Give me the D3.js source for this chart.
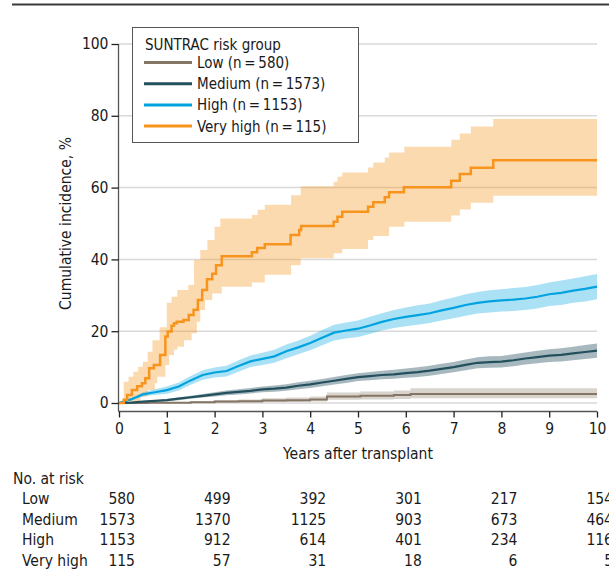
<!DOCTYPE html>
<html>
<head>
<meta charset="utf-8">
<script src="https://cdn.jsdelivr.net/npm/d3@7"></script>
<style>
  body { margin: 0; background: #fff; }
  svg text { font-family: "Liberation Sans Narrow", "DejaVu Sans Condensed", sans-serif; fill: #1a1a1a; }
</style>
</head>
<body>
<svg id="chart" width="609" height="584"></svg>
<script>
// ---------- data ----------
const groupNames = ["Low", "Medium", "High", "Very high"];
const groupLegend = ["Low (n\u2009=\u2009580)", "Medium (n\u2009=\u20091573)", "High (n\u2009=\u20091153)", "Very high (n\u2009=\u2009115)"];
const xTicks = [0,1,2,3,4,5,6,7,8,9,10];
const yTicks = [0,20,40,60,80,100];

// Very high (step curve + CI)
const veryHighT = [0,0.1,0.17,0.27,0.38,0.48,0.55,0.63,0.73,0.86,0.97,1.02,1.1,1.15,1.21,1.35,1.46,1.56,1.65,1.74,1.84,1.95,2.03,2.15,2.78,2.89,3.05,3.59,3.77,3.81,4.49,4.57,4.67,5.21,5.32,5.56,5.65,5.96,6.95,7.13,7.36,7.83,10];
const veryHighV = [0,0.9,2.2,3.6,4.7,5.5,6.9,9.7,10.6,13.4,18.5,19.9,21.5,22.2,22.6,23.1,24.5,26.0,28.7,31.5,34.5,36.0,38.4,40.9,42.0,43.2,44.2,46.8,48.2,49.3,50.5,51.9,53.3,54.7,55.9,57.3,58.7,60.1,61.9,63.8,65.5,67.6,67.6];
const veryHighUpperT = [0,0.1,0.2,0.3,0.4,0.5,0.6,0.7,0.85,1.0,1.1,1.22,1.45,1.57,1.7,1.85,2.0,2.12,2.78,2.9,3.05,3.6,3.8,4.49,4.57,4.67,5.21,5.32,5.56,5.65,5.97,6.95,7.13,7.36,7.83,10];
const veryHighUpper = [0,5.9,7.3,8.7,10.1,11.5,14.3,17.5,21.1,27.9,29.6,31.5,32.9,39.8,42.6,45.4,49.1,51.4,52.4,53.8,55.2,57.9,60.4,61.6,63.0,64.2,65.6,67.0,68.4,69.8,71.4,73.3,75.1,77.0,79.1,79.1];
const veryHighLowerT = [0,0.45,0.6,0.75,0.8,0.97,1.05,1.15,1.22,1.36,1.52,1.63,1.7,1.8,1.95,2.15,2.78,3.05,3.6,3.8,4.49,4.67,5.21,5.32,5.65,5.97,6.95,7.13,7.36,7.83,10];
const veryHighLower = [0,1.8,3.6,5.5,7.3,10.6,13.4,14.8,15.7,17.5,19.4,22.6,25.9,28.7,30.5,32.4,33.6,35.7,38.4,40.3,41.7,42.9,45.4,46.5,49.1,50.5,52.2,53.9,55.8,57.7,57.7];

// High
const highT = [0,0.25,0.5,0.75,1,1.25,1.5,1.75,2,2.25,2.5,2.75,3,3.25,3.5,3.75,4,4.25,4.5,4.75,5,5.25,5.5,5.75,6,6.25,6.5,6.75,7,7.25,7.5,7.75,8,8.25,8.5,8.75,9,9.25,9.5,9.75,10];
const highV = [0,1.0,2.4,3.0,3.6,4.6,6.3,7.8,8.5,8.9,10.3,11.6,12.3,13.0,14.4,15.5,16.7,18.2,19.6,20.2,20.7,21.6,22.6,23.4,24.0,24.5,25.0,25.8,26.5,27.3,27.9,28.3,28.6,28.8,29.1,29.6,30.3,30.7,31.3,31.8,32.4];
const highLower = [0,0.6,1.8,2.2,2.6,3.5,5.1,6.5,7.1,7.4,8.7,10.0,10.6,11.2,12.5,13.6,14.7,16.1,17.4,18.0,18.4,19.2,20.2,20.9,21.4,21.8,22.3,23.0,23.6,24.3,24.9,25.2,25.5,25.6,25.9,26.3,27.0,27.3,27.9,28.3,28.9];
const highUpper = [0,1.4,3.0,3.8,4.6,5.7,7.5,9.1,9.9,10.4,11.9,13.2,14.0,14.8,16.3,17.4,18.7,20.3,21.8,22.4,23.0,24.0,25.0,25.9,26.6,27.2,27.7,28.6,29.4,30.3,30.9,31.4,31.7,32.0,32.3,32.9,33.6,34.1,34.7,35.3,35.9];

// Medium
const mediumT = [0,0.25,0.5,0.75,1,1.25,1.5,1.75,2,2.25,2.5,2.75,3,3.25,3.5,3.75,4,4.25,4.5,4.75,5,5.25,5.5,5.75,6,6.25,6.5,6.75,7,7.25,7.5,7.75,8,8.25,8.5,8.75,9,9.25,9.5,9.75,10];
const mediumV = [0,0.1,0.4,0.6,0.8,1.2,1.6,2.0,2.4,2.8,3.1,3.4,3.8,4.0,4.3,4.8,5.2,5.7,6.2,6.7,7.2,7.5,7.8,8.0,8.3,8.6,9.0,9.5,10.0,10.6,11.2,11.4,11.5,11.9,12.4,12.8,13.2,13.4,13.8,14.2,14.6];
const mediumLower = [0,0,0.25,0.4,0.5,0.8,1.15,1.5,1.8,2.15,2.4,2.65,3.0,3.15,3.4,3.85,4.2,4.7,5.15,5.6,6.1,6.35,6.6,6.75,7.0,7.25,7.6,8.1,8.55,9.1,9.65,9.8,9.9,10.25,10.7,11.05,11.4,11.55,11.9,12.25,12.6];
const mediumUpper = [0,0.2,0.55,0.8,1.1,1.6,2.05,2.5,3.0,3.45,3.8,4.15,4.6,4.85,5.2,5.75,6.2,6.7,7.25,7.8,8.3,8.65,9.0,9.25,9.6,9.95,10.4,10.9,11.45,12.1,12.75,13.0,13.1,13.55,14.1,14.55,15.0,15.25,15.7,16.15,16.6];

// Low (step curve)
const lowT = [0,0.6,1.0,1.5,2.0,2.5,3.0,3.5,4.0,4.35,5.05,5.75,6.1,10];
const lowV = [0,0.05,0.1,0.2,0.4,0.5,0.7,0.8,1.0,1.8,2.0,2.2,2.5,2.5];
const lowLower = [0,0,0,0,0.1,0.15,0.25,0.3,0.4,0.9,1.0,1.1,1.35,1.35];
const lowUpper = [0,0.15,0.3,0.5,0.8,1.0,1.3,1.5,1.8,2.9,3.2,3.5,4.1,4.1];

// Number at risk
const riskTimes = [0,2,4,6,8,10];
const riskLow = [580,499,392,301,217,154];
const riskMedium = [1573,1370,1125,903,673,464];
const riskHigh = [1153,912,614,401,234,116];
const riskVeryHigh = [115,57,31,18,6,5];

// ---------- styles ----------
const colors = { low: "#857565", medium: "#24505e", high: "#00a3e0", veryHigh: "#f7941d" };
const bandOpacity = { low: 0.32, medium: 0.4, high: 0.33, veryHigh: 0.35 };

// ---------- drawing ----------
const svg = d3.select("#chart");
const x = d3.scaleLinear().domain([0, 10]).range([119, 597]);
const y = d3.scaleLinear().domain([0, 100]).range([403, 44]);
const FS = 15.5;
const LFS = 15;

// top rule
svg.append("line").attr("x1", 12).attr("x2", 609).attr("y1", 4.5).attr("y2", 4.5)
  .attr("stroke", "#3a3a3a").attr("stroke-width", 2);

// gridlines
svg.append("g").selectAll("line").data(yTicks).join("line")
  .attr("x1", x(0)).attr("x2", x(10))
  .attr("y1", d => y(d)).attr("y2", d => y(d))
  .attr("stroke", "#d9d9d9").attr("stroke-width", 1.5);

function stepAt(ts, vs, t) {
  let v = vs[0];
  for (let i = 0; i < ts.length; i++) { if (ts[i] <= t) v = vs[i]; else break; }
  return v;
}

function bandRows(lt, lv, ut, uv) {
  const times = Array.from(new Set([...lt, ...ut])).sort((a, b) => a - b);
  return times.map(t => ({ t, lo: stepAt(lt, lv, t), hi: stepAt(ut, uv, t) }));
}

function zipRows(ts, vs, lo, hi) {
  return ts.map((t, i) => ({ t, v: vs[i], lo: lo ? lo[i] : null, hi: hi ? hi[i] : null }));
}

const gBands = svg.append("g");
const gLines = svg.append("g");

function drawBand(rows, color, op, curve) {
  gBands.append("path").datum(rows)
    .attr("d", d3.area().curve(curve).x(d => x(d.t)).y0(d => y(d.lo)).y1(d => y(d.hi)))
    .attr("fill", color).attr("fill-opacity", op);
}
function drawLine(rows, color, w, curve) {
  gLines.append("path").datum(rows)
    .attr("d", d3.line().curve(curve).x(d => x(d.t)).y(d => y(d.v)))
    .attr("fill", "none").attr("stroke", color).attr("stroke-width", w);
}

const lowRows = zipRows(lowT, lowV, lowLower, lowUpper);
const medRows = zipRows(mediumT, mediumV, mediumLower, mediumUpper);
const highRows = zipRows(highT, highV, highLower, highUpper);
const vhRows = zipRows(veryHighT, veryHighV);
const vhBand = bandRows(veryHighLowerT, veryHighLower, veryHighUpperT, veryHighUpper);

drawBand(lowRows, colors.low, bandOpacity.low, d3.curveStepAfter);
drawBand(medRows, colors.medium, bandOpacity.medium, d3.curveLinear);
drawBand(highRows, colors.high, bandOpacity.high, d3.curveLinear);
drawBand(vhBand, colors.veryHigh, bandOpacity.veryHigh, d3.curveStepAfter);

drawLine(lowRows, colors.low, 2, d3.curveStepAfter);
drawLine(medRows, colors.medium, 2.2, d3.curveLinear);
drawLine(highRows, colors.high, 2.2, d3.curveLinear);
drawLine(vhRows, colors.veryHigh, 2.5, d3.curveStepAfter);

// y axis
const yAxis = d3.axisLeft(y).tickValues(yTicks).tickSize(7).tickPadding(3);
const gy = svg.append("g").attr("transform", "translate(118.5,0)").call(yAxis);
gy.select(".domain").attr("d", `M0,${y(100)}V411.5`).attr("stroke", "#555").attr("stroke-width", 1.3);
gy.selectAll(".tick line").attr("stroke", "#222").attr("stroke-width", 1.3);
gy.selectAll(".tick text").attr("font-size", FS);

// x axis
const xAxis = d3.axisBottom(x).tickValues(xTicks).tickSize(6).tickPadding(5);
const gx = svg.append("g").attr("transform", "translate(0,411.5)").call(xAxis);
gx.select(".domain").attr("d", `M${x(0) - 0.5},0H${x(10)}`).attr("stroke", "#555").attr("stroke-width", 1.3);
gx.selectAll(".tick line").attr("stroke", "#222").attr("stroke-width", 1.3);
gx.selectAll(".tick text").attr("font-size", FS);
svg.selectAll("g").attr("font-family", null);

// axis labels
svg.append("text").attr("x", x(5)).attr("y", 459).attr("text-anchor", "middle")
  .attr("font-size", FS).text("Years after transplant");
svg.append("text").attr("transform", `translate(71,${y(50)}) rotate(-90)`).attr("text-anchor", "middle")
  .attr("font-size", FS).text("Cumulative incidence, %");

// legend
const lg = svg.append("g");
lg.append("rect").attr("x", 132.5).attr("y", 27.5).attr("width", 226).attr("height", 115)
  .attr("fill", "#fff").attr("stroke", "#555").attr("stroke-width", 1);
lg.append("text").attr("x", 145).attr("y", 50).attr("font-size", LFS).text("SUNTRAC risk group");
const legColors = [colors.low, colors.medium, colors.high, colors.veryHigh];
groupLegend.forEach((name, i) => {
  const cy = 62.5 + i * 21.2;
  lg.append("line").attr("x1", 144).attr("x2", 192).attr("y1", cy).attr("y2", cy)
    .attr("stroke", legColors[i]).attr("stroke-width", 3);
  lg.append("text").attr("x", 197).attr("y", cy + 5.5).attr("font-size", LFS).text(name);
});

// risk table
const rt = svg.append("g");
rt.append("text").attr("x", 13).attr("y", 484).attr("font-size", FS).text("No. at risk");
const riskRows = [riskLow, riskMedium, riskHigh, riskVeryHigh];
riskRows.forEach((row, i) => {
  const by = 504 + i * 20.6;
  rt.append("text").attr("x", 22).attr("y", by).attr("font-size", FS).text(groupNames[i]);
  rt.selectAll(null).data(riskTimes).join("text")
    .attr("x", d => x(d) + 16).attr("y", by).attr("text-anchor", "end")
    .attr("font-size", FS).text((d, j) => row[j]);
});
</script>
</body>
</html>
